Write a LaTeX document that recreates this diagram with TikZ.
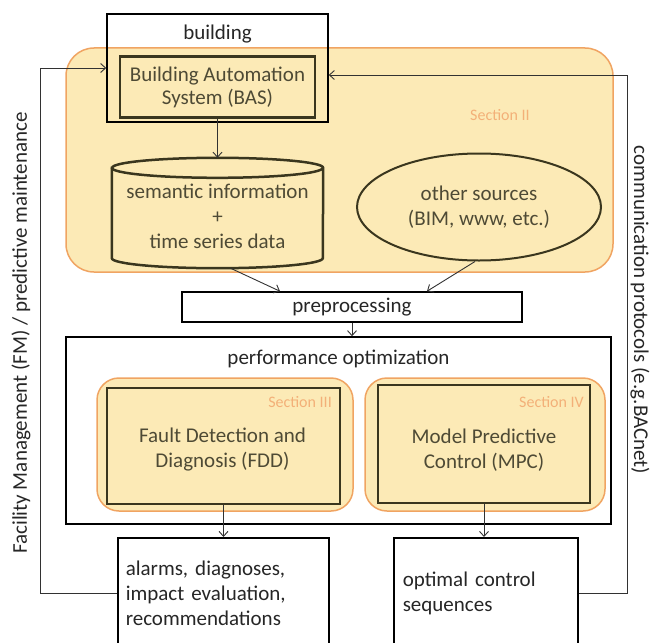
\documentclass[tikz,border=0pt]{standalone}
\usepackage{fontspec}
\setmainfont{Carlito}
\usetikzlibrary{arrows.meta,shapes.geometric}
\definecolor{secfill}{RGB}{252,234,182}
\definecolor{secline}{RGB}{240,164,98}
\definecolor{sectext}{RGB}{243,176,120}
\definecolor{darkline}{RGB}{58,54,30}
\definecolor{wire}{RGB}{50,50,50}
\begin{document}
\begin{tikzpicture}[x=1pt,y=-1pt,
    font=\fontsize{21}{25}\selectfont, text=black!85,
    box/.style={draw=black,line width=1.5pt,inner sep=0pt},
    section/.style={draw=secline,line width=1.5pt,fill=secfill,rounded corners=28pt},
    inbox/.style={draw=darkline,line width=2.5pt,fill=secfill,inner sep=0pt,align=center},
    intext/.style={text=darkline!90,align=center,inner sep=0pt},
    sectag/.style={text=sectext,font=\fontsize{16}{18}\selectfont,inner sep=0pt},
    link/.style={draw=wire,line width=0.9pt,-{Straight Barb[length=5pt,width=9pt]}}]
\clip (0,0) rectangle (650,642);

\node[section,minimum width=547pt,minimum height=224pt] (sec2) at (339.5,160) {};
\node[sectag] (tag2) at (500,115) {Section II};

\node[box,minimum width=221pt,minimum height=108pt,
      label={[anchor=north,inner sep=11pt]north:building}] (bldg) at (217.5,68) {};
\node[inbox,minimum width=195pt,minimum height=61pt,font=\fontsize{21}{23}\selectfont,text=darkline!90] (bas) at (217.5,87) {Building Automation\\System (BAS)};
\node[minimum width=211pt,minimum height=110pt,inner sep=0pt] (db) at (217.5,213) {};
\draw[darkline,line width=2.5pt,fill=secfill] ([yshift=-10pt]db.north west) -- ([yshift=10pt]db.south west)
    arc[start angle=180,end angle=360,x radius=105.5pt,y radius=10pt] -- ([yshift=-10pt]db.north east)
    arc[start angle=0,end angle=180,x radius=105.5pt,y radius=10pt] -- cycle;
\draw[darkline,line width=2.5pt] ([yshift=-10pt]db.north west)
    arc[start angle=180,end angle=360,x radius=105.5pt,y radius=10pt];
\node[intext] (dbtext) at (217.5,216) {semantic information\\+\\time series data};
\node[ellipse,draw=darkline,line width=2pt,fill=secfill,minimum width=244pt,minimum height=107pt,
      align=center,inner sep=0pt,text=darkline!90] (other) at (479,207) {other sources\\(BIM, www, etc.)};

\node[box,minimum width=340pt,minimum height=30pt] (pre) at (352,307) {\raisebox{-4pt}{preprocessing}};

\node[box,minimum width=545pt,minimum height=187pt,
      label={[anchor=north,inner sep=14pt]north:performance optimization}] (perf) at (338.5,430.5) {};
\node[section,rounded corners=22pt,minimum width=256pt,minimum height=133pt] (fddsec) at (225,444.5) {};
\node[section,rounded corners=22pt,minimum width=240pt,minimum height=133pt] (mpcsec) at (485,444.5) {};
\node[inbox,minimum width=233pt,minimum height=116pt] (fdd) at (223.5,446) {};
\node[inbox,minimum width=212pt,minimum height=118pt] (mpc) at (484,444) {};
\node[intext] (fddtext) at (222.5,450) {Fault Detection and\\Diagnosis (FDD)};
\node[intext] (mpctext) at (484,450) {Model Predictive\\Control (MPC)};
\node[sectag,anchor=east] (tag3) at (332,402) {Section III};
\node[sectag,anchor=east] (tag4) at (584,402) {Section IV};

\node[box,anchor=north west,minimum width=211pt,minimum height=112pt,align=left,text width=195pt] (alarms) at (117,537) {alarms, diagnoses,\\impact evaluation,\\recommendations};
\node[box,anchor=north west,minimum width=184pt,minimum height=112pt,align=left,text width=166pt] (opt) at (393,537) {optimal control\\sequences};

\node[rotate=90] (fmtext) at (21,333) {Facility Management (FM) / predictive maintenance};
\node[rotate=-90] (cptext) at (640,310) {communication protocols (e.g.BACnet)};

\coordinate (fmcorner) at (40,68);
\coordinate (cpcorner) at (627,75);

\draw[link] (bas) -- (db);
\draw[link] ([xshift=13pt]db.south) -- ([xshift=-72pt]pre.north);
\draw[link] ([xshift=-4pt]other.south) -- ([xshift=75pt]pre.north);
\draw[link] (pre.south) -- (pre.south |- perf.north);
\draw[link] (fdd.south) -- (fdd.south |- alarms.north);
\draw[link] (mpc.south) -- (mpc.south |- opt.north);
\draw[link] (alarms.west) -| (fmcorner) -- (fmcorner -| bldg.west);
\draw[link] (opt.east) -| (cpcorner) -- (cpcorner -| bldg.east);
\end{tikzpicture}
\end{document}
